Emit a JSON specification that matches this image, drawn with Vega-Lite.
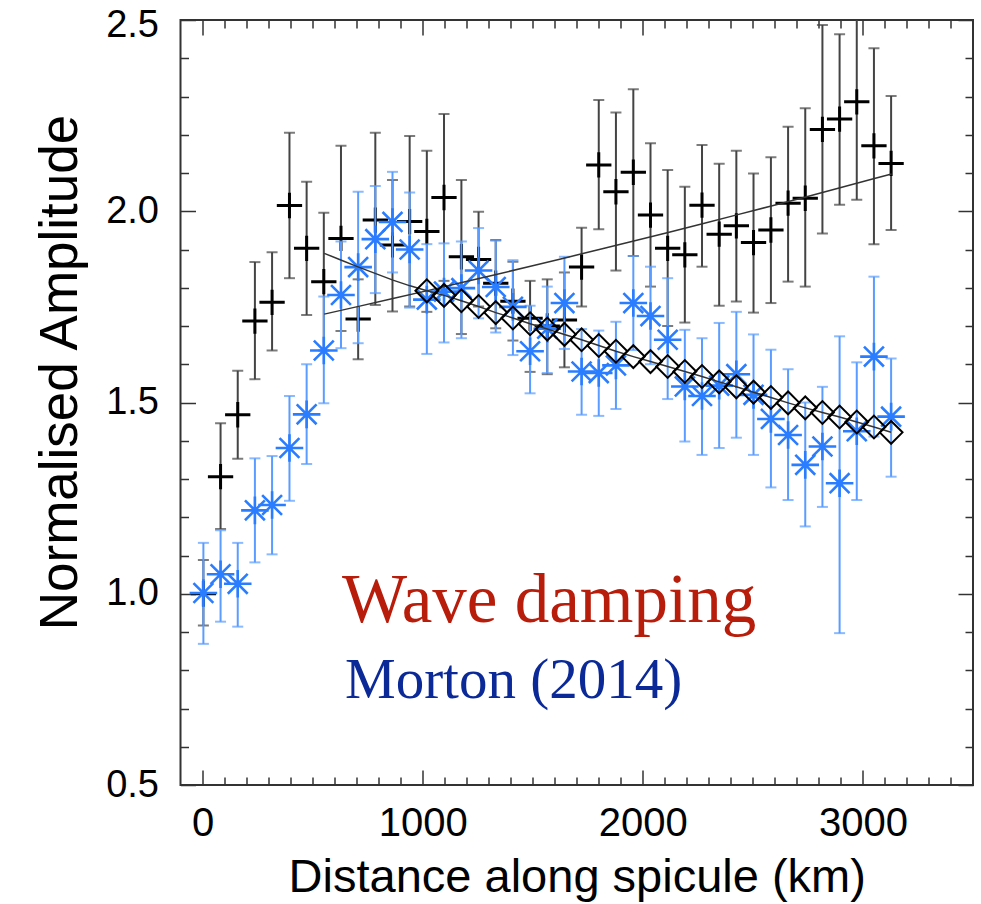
{
  "$schema": "https://vega.github.io/schema/vega-lite/v6.json",
  "width": 792.5,
  "height": 765,
  "autosize": {"type": "none"},
  "padding": {"left": 180.5, "top": 20, "right": 8, "bottom": 119},
  "background": "white",
  "config": {"view": {"stroke": "#333", "strokeWidth": 2}, "font": "Liberation Sans"},
  "datasets": {
    "black": [
      {"d":4,"v":1.0,"lo":0.917,"hi":1.088},
      {"d":82,"v":1.306,"lo":1.169,"hi":1.446},
      {"d":160,"v":1.468,"lo":1.353,"hi":1.583},
      {"d":238,"v":1.713,"lo":1.561,"hi":1.867},
      {"d":316,"v":1.762,"lo":1.636,"hi":1.893},
      {"d":395,"v":2.015,"lo":1.825,"hi":2.205},
      {"d":473,"v":1.903,"lo":1.729,"hi":2.077},
      {"d":551,"v":1.816,"lo":1.636,"hi":1.996},
      {"d":629,"v":1.929,"lo":1.687,"hi":2.171},
      {"d":707,"v":1.718,"lo":1.613,"hi":1.822},
      {"d":785,"v":1.977,"lo":1.755,"hi":2.205},
      {"d":863,"v":1.912,"lo":1.738,"hi":2.082},
      {"d":941,"v":1.973,"lo":1.751,"hi":2.197},
      {"d":1019,"v":1.947,"lo":1.737,"hi":2.158},
      {"d":1097,"v":2.036,"lo":1.818,"hi":2.254},
      {"d":1176,"v":1.881,"lo":1.679,"hi":2.082},
      {"d":1254,"v":1.874,"lo":1.751,"hi":1.999},
      {"d":1332,"v":1.812,"lo":1.694,"hi":1.925},
      {"d":1410,"v":1.765,"lo":1.662,"hi":1.868},
      {"d":1488,"v":1.72,"lo":1.58,"hi":1.818},
      {"d":1566,"v":1.70,"lo":1.574,"hi":1.822},
      {"d":1644,"v":1.716,"lo":1.592,"hi":1.84},
      {"d":1722,"v":1.854,"lo":1.751,"hi":1.957},
      {"d":1800,"v":2.121,"lo":1.953,"hi":2.291},
      {"d":1878,"v":2.051,"lo":1.845,"hi":2.258},
      {"d":1957,"v":2.102,"lo":1.883,"hi":2.319},
      {"d":2035,"v":1.99,"lo":1.803,"hi":2.178},
      {"d":2113,"v":1.903,"lo":1.70,"hi":2.108},
      {"d":2191,"v":1.886,"lo":1.709,"hi":2.064},
      {"d":2269,"v":2.016,"lo":1.855,"hi":2.173},
      {"d":2347,"v":1.94,"lo":1.753,"hi":2.124},
      {"d":2425,"v":1.962,"lo":1.764,"hi":2.158},
      {"d":2503,"v":1.918,"lo":1.735,"hi":2.099},
      {"d":2582,"v":1.951,"lo":1.76,"hi":2.141},
      {"d":2660,"v":2.021,"lo":1.816,"hi":2.221},
      {"d":2738,"v":2.034,"lo":1.803,"hi":2.269},
      {"d":2816,"v":2.214,"lo":1.942,"hi":2.487},
      {"d":2894,"v":2.241,"lo":2.017,"hi":2.463},
      {"d":2972,"v":2.286,"lo":2.03,"hi":2.56},
      {"d":3050,"v":2.171,"lo":1.914,"hi":2.426},
      {"d":3128,"v":2.125,"lo":1.951,"hi":2.301}
    ],
    "blue": [
      {"d":4,"v":1.002,"lo":0.869,"hi":1.133},
      {"d":82,"v":1.051,"lo":0.927,"hi":1.166},
      {"d":160,"v":1.026,"lo":0.914,"hi":1.133},
      {"d":238,"v":1.218,"lo":1.082,"hi":1.354},
      {"d":316,"v":1.232,"lo":1.103,"hi":1.36},
      {"d":395,"v":1.381,"lo":1.243,"hi":1.517},
      {"d":473,"v":1.469,"lo":1.339,"hi":1.6},
      {"d":551,"v":1.636,"lo":1.498,"hi":1.777},
      {"d":629,"v":1.781,"lo":1.642,"hi":1.921},
      {"d":707,"v":1.854,"lo":1.655,"hi":2.051},
      {"d":785,"v":1.927,"lo":1.786,"hi":2.066},
      {"d":863,"v":1.972,"lo":1.84,"hi":2.103},
      {"d":941,"v":1.9,"lo":1.748,"hi":2.049},
      {"d":1019,"v":1.769,"lo":1.627,"hi":1.914},
      {"d":1097,"v":1.79,"lo":1.657,"hi":1.916},
      {"d":1176,"v":1.799,"lo":1.668,"hi":1.921},
      {"d":1254,"v":1.845,"lo":1.72,"hi":1.956},
      {"d":1332,"v":1.802,"lo":1.683,"hi":1.923},
      {"d":1410,"v":1.75,"lo":1.624,"hi":1.872},
      {"d":1488,"v":1.634,"lo":1.524,"hi":1.753},
      {"d":1566,"v":1.693,"lo":1.577,"hi":1.803},
      {"d":1644,"v":1.76,"lo":1.64,"hi":1.881},
      {"d":1722,"v":1.581,"lo":1.468,"hi":1.692},
      {"d":1800,"v":1.577,"lo":1.465,"hi":1.688},
      {"d":1878,"v":1.597,"lo":1.483,"hi":1.711},
      {"d":1957,"v":1.76,"lo":1.637,"hi":1.883},
      {"d":2035,"v":1.726,"lo":1.6,"hi":1.855},
      {"d":2113,"v":1.664,"lo":1.509,"hi":1.825},
      {"d":2191,"v":1.542,"lo":1.398,"hi":1.69},
      {"d":2269,"v":1.517,"lo":1.363,"hi":1.668},
      {"d":2347,"v":1.544,"lo":1.381,"hi":1.708},
      {"d":2425,"v":1.574,"lo":1.408,"hi":1.737},
      {"d":2503,"v":1.52,"lo":1.363,"hi":1.678},
      {"d":2582,"v":1.457,"lo":1.278,"hi":1.638},
      {"d":2660,"v":1.415,"lo":1.245,"hi":1.587},
      {"d":2738,"v":1.337,"lo":1.176,"hi":1.5},
      {"d":2816,"v":1.385,"lo":1.227,"hi":1.541},
      {"d":2894,"v":1.289,"lo":0.897,"hi":1.673},
      {"d":2972,"v":1.425,"lo":1.245,"hi":1.605},
      {"d":3050,"v":1.62,"lo":1.411,"hi":1.829},
      {"d":3128,"v":1.463,"lo":1.306,"hi":1.615}
    ],
    "model": [
      {"d":1019,"m":1.792},{"d":1097,"m":1.78},{"d":1176,"m":1.766},{"d":1254,"m":1.751},
      {"d":1332,"m":1.735},{"d":1410,"m":1.721},{"d":1488,"m":1.706},{"d":1566,"m":1.692},
      {"d":1644,"m":1.678},{"d":1722,"m":1.664},{"d":1800,"m":1.649},{"d":1878,"m":1.634},
      {"d":1957,"m":1.62},{"d":2035,"m":1.607},{"d":2113,"m":1.594},{"d":2191,"m":1.581},
      {"d":2269,"m":1.568},{"d":2347,"m":1.554},{"d":2425,"m":1.541},{"d":2503,"m":1.527},
      {"d":2582,"m":1.513},{"d":2660,"m":1.499},{"d":2738,"m":1.486},{"d":2816,"m":1.474},
      {"d":2894,"m":1.462},{"d":2972,"m":1.449},{"d":3050,"m":1.436},{"d":3128,"m":1.422}
    ],
    "lineA": [
      {"d":553,"m":1.89},{"d":631,"m":1.872},{"d":709,"m":1.854},{"d":787,"m":1.837},
      {"d":865,"m":1.82},{"d":943,"m":1.805},
      {"d":1019,"m":1.792},{"d":1097,"m":1.78},{"d":1176,"m":1.766},{"d":1254,"m":1.751},
      {"d":1332,"m":1.735},{"d":1410,"m":1.721},{"d":1488,"m":1.706},{"d":1566,"m":1.692},
      {"d":1644,"m":1.678},{"d":1722,"m":1.664},{"d":1800,"m":1.649},{"d":1878,"m":1.634},
      {"d":1957,"m":1.62},{"d":2035,"m":1.607},{"d":2113,"m":1.594},{"d":2191,"m":1.581},
      {"d":2269,"m":1.568},{"d":2347,"m":1.554},{"d":2425,"m":1.541},{"d":2503,"m":1.527},
      {"d":2582,"m":1.513},{"d":2660,"m":1.499},{"d":2738,"m":1.486},{"d":2816,"m":1.474},
      {"d":2894,"m":1.462},{"d":2972,"m":1.449},{"d":3050,"m":1.436},{"d":3128,"m":1.422}
    ],
    "lineB": [
      {"d":553,"g":1.731},{"d":709,"g":1.7513},{"d":865,"g":1.7718},{"d":1022,"g":1.7925},
      {"d":1178,"g":1.8135},{"d":1334,"g":1.8347},{"d":1490,"g":1.8562},{"d":1646,"g":1.878},
      {"d":1802,"g":1.9},{"d":1959,"g":1.9222},{"d":2115,"g":1.9447},{"d":2271,"g":1.9675},
      {"d":2427,"g":1.9905},{"d":2584,"g":2.0138},{"d":2740,"g":2.0374},{"d":2896,"g":2.0613},
      {"d":3052,"g":2.0854},{"d":3130,"g":2.0976}
    ]
  },
  "resolve": {"axis": {"x": "independent", "y": "independent"}},
  "layer": [
    {
      "data": {"name": "black"},
      "mark": {"type": "rule", "color": "#444", "strokeWidth": 2, "clip": true},
      "encoding": {
        "x": {"field": "d", "type": "quantitative", "scale": {"domain": [-100, 3500], "nice": false, "zero": false},
          "axis": {"orient": "bottom", "values": [0, 1000, 2000, 3000], "format": "d", "labelFont": "Liberation Sans", "labelFontSize": 40, "labelColor": "#000", "labelPadding": 18, "labelFlush": false, "labelOverlap": false, "labelBound": false, "ticks": false, "domain": false, "grid": false,
            "title": "Distance along spicule (km)", "titleFont": "Liberation Sans", "titleFontSize": 47, "titleFontWeight": "normal", "titleColor": "#000", "titleBaseline": "alphabetic", "titleY": 106}},
        "y": {"field": "lo", "type": "quantitative", "scale": {"domain": [0.5, 2.5], "nice": false, "zero": false},
          "axis": {"orient": "left", "values": [0.5, 1, 1.5, 2, 2.5], "format": ".1f", "labelFont": "Liberation Sans", "labelFontSize": 38, "labelColor": "#000", "labelPadding": 22, "labelFlush": false, "labelOverlap": false, "labelBound": false, "labelBaseline": "middle",
            "labelOffset": {"condition": {"test": "datum.value > 2.4", "value": 5}, "value": 0},
            "ticks": false, "domain": false, "grid": false,
            "title": "Normalised Amplitude", "titleFont": "Liberation Sans", "titleFontSize": 53, "titleFontWeight": "normal", "titleColor": "#000", "titleAngle": 270, "titleAlign": "center", "titleBaseline": "alphabetic", "titleX": -104, "titleY": 352}},
        "y2": {"field": "hi"}
      }
    },
    {
      "data": {"name": "black"},
      "mark": {"type": "tick", "orient": "horizontal", "size": 11, "thickness": 2, "color": "#444", "clip": true},
      "encoding": {
        "x": {"field": "d", "type": "quantitative", "scale": {"domain": [-100, 3500], "nice": false, "zero": false},
          "axis": {"orient": "bottom", "values": [0, 1000, 2000, 3000], "labels": false, "domain": false, "grid": false, "ticks": true, "tickSize": -15, "tickColor": "#333", "tickWidth": 1.5, "title": null}},
        "y": {"field": "lo", "type": "quantitative", "scale": {"domain": [0.5, 2.5], "nice": false, "zero": false},
          "axis": {"orient": "left", "values": [0.5, 1, 1.5, 2, 2.5], "labels": false, "domain": false, "grid": false, "ticks": true, "tickSize": -15, "tickColor": "#333", "tickWidth": 1.5, "title": null}}
      }
    },
    {
      "data": {"name": "black"},
      "mark": {"type": "tick", "orient": "horizontal", "size": 11, "thickness": 2, "color": "#444", "clip": true},
      "encoding": {
        "x": {"field": "d", "type": "quantitative", "scale": {"domain": [-100, 3500], "nice": false, "zero": false},
          "axis": {"orient": "bottom", "values": [100,200,300,400,500,600,700,800,900,1100,1200,1300,1400,1500,1600,1700,1800,1900,2100,2200,2300,2400,2500,2600,2700,2800,2900,3100,3200,3300,3400], "labels": false, "domain": false, "grid": false, "ticks": true, "tickSize": -8, "tickColor": "#333", "tickWidth": 1.5, "title": null}},
        "y": {"field": "hi", "type": "quantitative", "scale": {"domain": [0.5, 2.5], "nice": false, "zero": false},
          "axis": {"orient": "left", "values": [0.6,0.7,0.8,0.9,1.1,1.2,1.3,1.4,1.6,1.7,1.8,1.9,2.1,2.2,2.3,2.4], "labels": false, "domain": false, "grid": false, "ticks": true, "tickSize": -8, "tickColor": "#333", "tickWidth": 1.5, "title": null}}
      }
    },
    {
      "data": {"name": "black"},
      "mark": {"type": "point", "shape": "M-1,0L1,0M0,-1L0,1", "size": 640, "filled": false, "stroke": "#000", "strokeWidth": 3, "opacity": 1},
      "encoding": {
        "x": {"field": "d", "type": "quantitative", "scale": {"domain": [-100, 3500], "nice": false, "zero": false},
          "axis": {"orient": "top", "values": [0, 1000, 2000, 3000], "labels": false, "domain": false, "grid": false, "ticks": true, "tickSize": -15, "tickColor": "#333", "tickWidth": 1.5, "title": null}},
        "y": {"field": "v", "type": "quantitative", "scale": {"domain": [0.5, 2.5], "nice": false, "zero": false},
          "axis": {"orient": "right", "values": [0.5, 1, 1.5, 2, 2.5], "labels": false, "domain": false, "grid": false, "ticks": true, "tickSize": -15, "tickColor": "#333", "tickWidth": 1.5, "title": null}}
      }
    },
    {
      "data": {"name": "blue"},
      "mark": {"type": "rule", "color": "#5a9cff", "strokeWidth": 2},
      "encoding": {
        "x": {"field": "d", "type": "quantitative", "scale": {"domain": [-100, 3500], "nice": false, "zero": false},
          "axis": {"orient": "top", "values": [100,200,300,400,500,600,700,800,900,1100,1200,1300,1400,1500,1600,1700,1800,1900,2100,2200,2300,2400,2500,2600,2700,2800,2900,3100,3200,3300,3400], "labels": false, "domain": false, "grid": false, "ticks": true, "tickSize": -8, "tickColor": "#333", "tickWidth": 1.5, "title": null}},
        "y": {"field": "lo", "type": "quantitative", "scale": {"domain": [0.5, 2.5], "nice": false, "zero": false},
          "axis": {"orient": "right", "values": [0.6,0.7,0.8,0.9,1.1,1.2,1.3,1.4,1.6,1.7,1.8,1.9,2.1,2.2,2.3,2.4], "labels": false, "domain": false, "grid": false, "ticks": true, "tickSize": -8, "tickColor": "#333", "tickWidth": 1.5, "title": null}},
        "y2": {"field": "hi"}
      }
    },
    {
      "data": {"name": "blue"},
      "mark": {"type": "tick", "orient": "horizontal", "size": 11, "thickness": 2, "color": "#5a9cff"},
      "encoding": {
        "x": {"field": "d", "type": "quantitative", "axis": null},
        "y": {"field": "lo", "type": "quantitative", "axis": null}
      }
    },
    {
      "data": {"name": "blue"},
      "mark": {"type": "tick", "orient": "horizontal", "size": 11, "thickness": 2, "color": "#5a9cff"},
      "encoding": {
        "x": {"field": "d", "type": "quantitative", "axis": null},
        "y": {"field": "hi", "type": "quantitative", "axis": null}
      }
    },
    {
      "data": {"name": "blue"},
      "mark": {"type": "point", "shape": "M-1,0L1,0M0,-1L0,1M-0.72,-0.72L0.72,0.72M-0.72,0.72L0.72,-0.72", "size": 760, "filled": false, "stroke": "#2a7dff", "strokeWidth": 2.6, "opacity": 1},
      "encoding": {
        "x": {"field": "d", "type": "quantitative", "axis": null},
        "y": {"field": "v", "type": "quantitative", "axis": null}
      }
    },
    {
      "data": {"name": "lineB"},
      "mark": {"type": "line", "color": "#333", "strokeWidth": 1.5},
      "encoding": {
        "x": {"field": "d", "type": "quantitative", "axis": null},
        "y": {"field": "g", "type": "quantitative", "axis": null}
      }
    },
    {
      "data": {"name": "lineA"},
      "mark": {"type": "line", "color": "#333", "strokeWidth": 1.5},
      "encoding": {
        "x": {"field": "d", "type": "quantitative", "axis": null},
        "y": {"field": "m", "type": "quantitative", "axis": null}
      }
    },
    {
      "data": {"name": "model"},
      "mark": {"type": "point", "shape": "diamond", "size": 520, "filled": false, "stroke": "#000", "strokeWidth": 2, "opacity": 1},
      "encoding": {
        "x": {"field": "d", "type": "quantitative", "axis": null},
        "y": {"field": "m", "type": "quantitative", "axis": null}
      }
    },
    {
      "data": {"values": [{}]},
      "mark": {"type": "text", "text": "Wave damping", "font": "Liberation Serif", "fontSize": 69, "color": "#b81d0b", "align": "left", "baseline": "alphabetic"},
      "encoding": {
        "x": {"datum": 634, "type": "quantitative", "axis": null},
        "y": {"datum": 0.927, "type": "quantitative", "axis": null}
      }
    },
    {
      "data": {"values": [{}]},
      "mark": {"type": "text", "text": "Morton (2014)", "font": "Liberation Serif", "fontSize": 57, "color": "#0b2a97", "align": "left", "baseline": "alphabetic"},
      "encoding": {
        "x": {"datum": 647, "type": "quantitative", "axis": null},
        "y": {"datum": 0.727, "type": "quantitative", "axis": null}
      }
    }
  ]
}
